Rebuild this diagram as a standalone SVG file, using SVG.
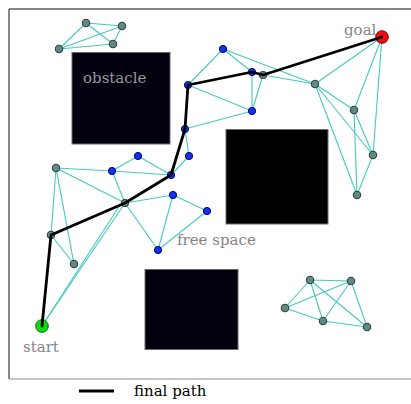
<svg xmlns="http://www.w3.org/2000/svg" width="411" height="404" viewBox="0 0 411 404">
  <style>
    .edge { stroke: #45c9c1; stroke-width: 1.1; fill: none; }
    .path { stroke: #000; stroke-width: 2.8; fill: none; stroke-linejoin: round; stroke-linecap: round; }
    .blue { fill: #1432f5; stroke: #00005a; stroke-width: 1; }
    .gray { fill: #5e8a88; stroke: #3c3c3c; stroke-width: 1.1; }
    .lbl { font-family: "DejaVu Serif", "Liberation Serif", serif; font-size: 15px; fill: #858585; }
    .obs { stroke: #6e6668; stroke-width: 1; }
  </style>

  <!-- plot frame -->
  <rect x="0" y="0" width="411" height="404" fill="#fff"/>
  <line x1="9" y1="9" x2="411" y2="9" stroke="#111" stroke-width="1"/>
  <line x1="9" y1="9" x2="9" y2="379" stroke="#111" stroke-width="1"/>
  <line x1="9" y1="379" x2="411" y2="379" stroke="#8a8a8a" stroke-width="1.2"/>

  <!-- obstacles -->
  <g id="obstacles">
    <rect class="obs" x="72" y="52.5" width="98" height="91.5" fill="#03000f"/>
    <rect class="obs" x="226" y="129.5" width="102" height="94.5" fill="#000"/>
    <rect class="obs" x="145" y="269.5" width="93" height="80" fill="#03000e"/>
  </g>

  <!-- roadmap edges -->
  <g id="connectors">
    <!-- top-left cluster -->
    <line class="edge" x1="86" y1="23" x2="122" y2="26"/>
    <line class="edge" x1="86" y1="23" x2="113" y2="44"/>
    <line class="edge" x1="86" y1="23" x2="59" y2="49"/>
    <line class="edge" x1="122" y1="26" x2="113" y2="44"/>
    <line class="edge" x1="122" y1="26" x2="59" y2="49"/>
    <line class="edge" x1="113" y1="44" x2="59" y2="49"/>
    <!-- bottom-right cluster -->
    <line class="edge" x1="310" y1="280" x2="351" y2="281"/>
    <line class="edge" x1="310" y1="280" x2="285" y2="308"/>
    <line class="edge" x1="310" y1="280" x2="323" y2="321"/>
    <line class="edge" x1="310" y1="280" x2="367" y2="327"/>
    <line class="edge" x1="351" y1="281" x2="285" y2="308"/>
    <line class="edge" x1="351" y1="281" x2="323" y2="321"/>
    <line class="edge" x1="351" y1="281" x2="367" y2="327"/>
    <line class="edge" x1="285" y1="308" x2="323" y2="321"/>
    <line class="edge" x1="323" y1="321" x2="367" y2="327"/>
    <!-- upper part of the main roadmap -->
    <line class="edge" x1="223" y1="49" x2="188" y2="85"/>
    <line class="edge" x1="223" y1="49" x2="252" y2="72"/>
    <line class="edge" x1="223" y1="49" x2="315" y2="84"/>
    <line class="edge" x1="188" y1="85" x2="252" y2="72"/>
    <line class="edge" x1="188" y1="85" x2="252" y2="111"/>
    <line class="edge" x1="188" y1="85" x2="185" y2="129"/>
    <line class="edge" x1="252" y1="72" x2="263" y2="75"/>
    <line class="edge" x1="252" y1="72" x2="252" y2="111"/>
    <line class="edge" x1="263" y1="75" x2="252" y2="111"/>
    <line class="edge" x1="263" y1="75" x2="315" y2="84"/>
    <line class="edge" x1="252" y1="111" x2="185" y2="129"/>
    <line class="edge" x1="315" y1="84" x2="382" y2="37"/>
    <line class="edge" x1="315" y1="84" x2="354" y2="110"/>
    <line class="edge" x1="315" y1="84" x2="373" y2="155"/>
    <line class="edge" x1="315" y1="84" x2="357" y2="195"/>
    <line class="edge" x1="382" y1="37" x2="354" y2="110"/>
    <line class="edge" x1="382" y1="37" x2="373" y2="155"/>
    <line class="edge" x1="354" y1="110" x2="373" y2="155"/>
    <line class="edge" x1="354" y1="110" x2="357" y2="195"/>
    <line class="edge" x1="373" y1="155" x2="357" y2="195"/>
    <!-- lower part of the main roadmap -->
    <line class="edge" x1="185" y1="129" x2="189" y2="156"/>
    <line class="edge" x1="185" y1="129" x2="171" y2="175"/>
    <line class="edge" x1="189" y1="156" x2="171" y2="175"/>
    <line class="edge" x1="138" y1="156" x2="171" y2="175"/>
    <line class="edge" x1="112" y1="171" x2="138" y2="156"/>
    <line class="edge" x1="56" y1="168" x2="112" y2="171"/>
    <line class="edge" x1="112" y1="171" x2="171" y2="175"/>
    <line class="edge" x1="56" y1="168" x2="125" y2="203"/>
    <line class="edge" x1="56" y1="168" x2="51" y2="235"/>
    <line class="edge" x1="56" y1="168" x2="74" y2="264"/>
    <line class="edge" x1="112" y1="171" x2="125" y2="203"/>
    <line class="edge" x1="171" y1="175" x2="125" y2="203"/>
    <line class="edge" x1="125" y1="203" x2="173" y2="195"/>
    <line class="edge" x1="125" y1="203" x2="158" y2="250"/>
    <line class="edge" x1="173" y1="195" x2="158" y2="250"/>
    <line class="edge" x1="173" y1="195" x2="207" y2="211"/>
    <line class="edge" x1="207" y1="211" x2="158" y2="250"/>
    <line class="edge" x1="51" y1="235" x2="74" y2="264"/>
    <line class="edge" x1="51" y1="235" x2="125" y2="203"/>
    <line class="edge" x1="51" y1="235" x2="42" y2="326"/>
    <line class="edge" x1="42" y1="326" x2="125" y2="203"/>
    <line class="edge" x1="42" y1="326" x2="120" y2="205"/>
  </g>

  <!-- sampled configurations -->
  <g id="n-a1"><circle class="gray" cx="86" cy="23" r="3.7"/></g>
  <g id="n-a2"><circle class="gray" cx="122" cy="26" r="3.7"/></g>
  <g id="n-a3"><circle class="gray" cx="113" cy="44" r="3.7"/></g>
  <g id="n-a4"><circle class="gray" cx="59" cy="49" r="3.7"/></g>

  <g id="n-f1"><circle class="gray" cx="310" cy="280" r="3.7"/></g>
  <g id="n-f2"><circle class="gray" cx="351" cy="281" r="3.7"/></g>
  <g id="n-f3"><circle class="gray" cx="285" cy="308" r="3.7"/></g>
  <g id="n-f4"><circle class="gray" cx="323" cy="321" r="3.7"/></g>
  <g id="n-f5"><circle class="gray" cx="367" cy="327" r="3.7"/></g>

  <g id="n-b1"><circle class="blue" cx="223" cy="49" r="3.6"/></g>
  <g id="n-b2"><circle class="blue" cx="188" cy="85" r="3.6"/></g>
  <g id="n-b3"><circle class="blue" cx="252" cy="72" r="3.6"/></g>
  <g id="n-b4"><circle class="gray" cx="263" cy="75" r="3.5"/></g>
  <g id="n-b5"><circle class="blue" cx="252" cy="111" r="3.6"/></g>
  <g id="n-b6"><circle class="blue" cx="185" cy="129" r="3.6"/></g>

  <g id="n-c1"><circle class="gray" cx="315" cy="84" r="3.7"/></g>
  <g id="n-c2"><circle class="gray" cx="354" cy="110" r="3.7"/></g>
  <g id="n-c3"><circle class="gray" cx="373" cy="155" r="3.7"/></g>
  <g id="n-c4"><circle class="gray" cx="357" cy="195" r="3.7"/></g>

  <g id="n-d1"><circle class="gray" cx="56" cy="168" r="3.7"/></g>
  <g id="n-d2"><circle class="blue" cx="112" cy="171" r="3.6"/></g>
  <g id="n-d3"><circle class="blue" cx="138" cy="156" r="3.6"/></g>
  <g id="n-d4"><circle class="blue" cx="189" cy="156" r="3.6"/></g>
  <g id="n-d5"><circle class="blue" cx="171" cy="175" r="3.6"/></g>
  <g id="n-d6"><circle class="blue" cx="173" cy="195" r="3.6"/></g>
  <g id="n-d7"><circle class="gray" cx="125" cy="203" r="3.5"/></g>
  <g id="n-d8"><circle class="blue" cx="207" cy="211" r="3.6"/></g>
  <g id="n-d9"><circle class="blue" cx="158" cy="250" r="3.6"/></g>

  <g id="n-e1"><circle class="gray" cx="51" cy="235" r="3.7"/></g>
  <g id="n-e2"><circle class="gray" cx="74" cy="264" r="3.7"/></g>

  <g id="n-start"><circle cx="42" cy="326" r="6.3" fill="#0be00b" stroke="#0a6a0a" stroke-width="1"/></g>
  <g id="n-goal"><circle cx="382" cy="37" r="6.3" fill="#f01010" stroke="#8a0000" stroke-width="1"/></g>

  <!-- shortest route through the roadmap -->
  <polyline id="final-path" class="path" points="42,326 51,235 125,203 171,175 185,129 188,85 252,72 263,75 382,37"/>

  <!-- labels -->
  <g id="labels">
    <text class="lbl" x="83" y="83" style="fill:#9a9a9a">obstacle</text>
    <text class="lbl" x="344" y="35">goal</text>
    <text class="lbl" x="23" y="352">start</text>
    <text class="lbl" x="177" y="245">free space</text>
  </g>

  <!-- legend -->
  <g id="legend">
    <line x1="79" y1="391" x2="114" y2="391" stroke="#000" stroke-width="2.8"/>
    <text x="134" y="396" font-family="DejaVu Serif, Liberation Serif, serif" font-size="15" fill="#000">final path</text>
  </g>
</svg>
